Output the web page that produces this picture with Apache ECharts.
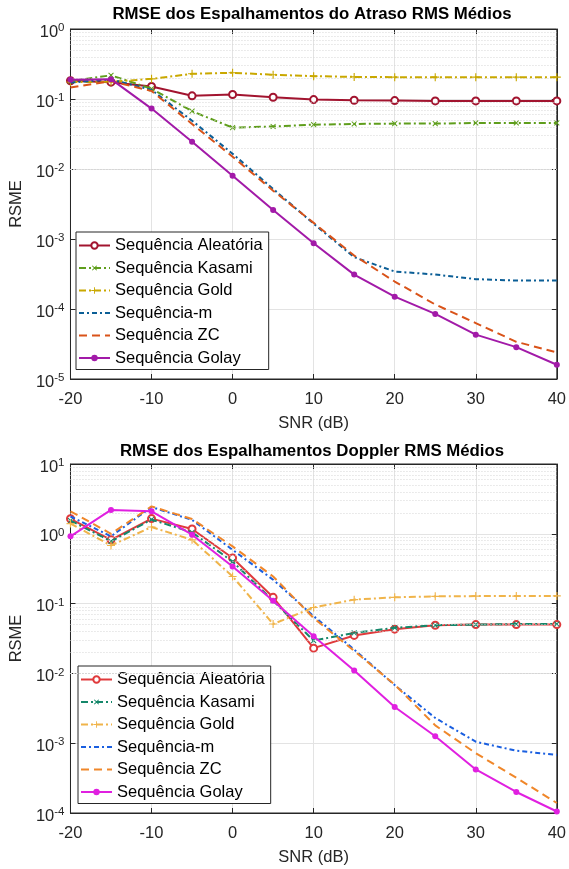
<!DOCTYPE html>
<html><head><meta charset="utf-8">
<script src="https://cdn.jsdelivr.net/npm/echarts@6/dist/echarts.min.js"></script>
<style>html,body{margin:0;padding:0;background:#fff}#c{width:569px;height:869px}</style>
</head><body><div id="c"></div>
<script>
// ---------- DATA ----------
const snr = [-20, -15, -10, -5, 0, 5, 10, 15, 20, 25, 30, 35, 40];
const seriesNames = ['Sequência Aleatória', 'Sequência Kasami', 'Sequência Gold', 'Sequência-m', 'Sequência ZC', 'Sequência Golay'];
const chartTitles = ['RMSE dos Espalhamentos do Atraso RMS Médios', 'RMSE dos Espalhamentos Doppler RMS Médios'];
const xAxisName = 'SNR (dB)';
const yAxisName = 'RSME';

// Top chart: delay spread RMSE
const delayAleatoria = [0.182, 0.174, 0.151, 0.111, 0.116, 0.106, 0.098, 0.096, 0.095, 0.094, 0.094, 0.094, 0.094];
const delayKasami    = [0.18, 0.218, 0.14, 0.067, 0.039, 0.0405, 0.043, 0.044, 0.0445, 0.0445, 0.0455, 0.0455, 0.0455];
const delayGold      = [0.175, 0.176, 0.194, 0.229, 0.237, 0.222, 0.212, 0.207, 0.205, 0.205, 0.205, 0.205, 0.205];
const delayM         = [0.172, 0.19, 0.135, 0.049, 0.0165, 0.0052, 0.00165, 0.00055, 0.000343, 0.000311, 0.000267, 0.000255, 0.000255];
const delayZC        = [0.146, 0.18, 0.13, 0.044, 0.015, 0.0049, 0.0017, 0.00058, 0.000247, 0.000116, 0.000063, 0.000034, 0.000024];
const delayGolay     = [0.188, 0.192, 0.073, 0.0245, 0.008, 0.0026, 0.00087, 0.00031, 0.00015, 0.000085, 0.000043, 0.0000285, 0.000016];

// Bottom chart: Doppler spread RMSE
const dopAleatoria = [1.64, 0.82, 1.65, 1.17, 0.45, 0.123, 0.023, 0.035, 0.043, 0.049, 0.05, 0.05, 0.05];
const dopKasami    = [1.55, 0.78, 1.6, 1.05, 0.40, 0.11, 0.0295, 0.038, 0.045, 0.049, 0.05, 0.051, 0.051];
const dopGold      = [1.4, 0.68, 1.25, 0.82, 0.245, 0.051, 0.088, 0.114, 0.123, 0.127, 0.128, 0.128, 0.129];
const dopM         = [1.77, 0.92, 2.42, 1.58, 0.59, 0.22, 0.066, 0.022, 0.0068, 0.0023, 0.00105, 0.00078, 0.00068];
const dopZC        = [2.1, 1.0, 2.47, 1.63, 0.66, 0.245, 0.062, 0.021, 0.0069, 0.0018, 0.00072, 0.00032, 0.000139];
const dopGolay     = [0.92, 2.2, 2.1, 0.97, 0.34, 0.11, 0.034, 0.011, 0.0033, 0.00126, 0.00042, 0.0002, 0.000105];

const yRangeTop = [1e-5, 1];
const yRangeBottom = [1e-4, 10];

// ---------- STYLE ----------
const FONT = '"Liberation Sans", Arial, Helvetica, sans-serif';
const AX = '#262626';
const FS = 16.5;
const plusPath = 'path://M4.3,0H5.7V4.3H10V5.7H5.7V10H4.3V5.7H0V4.3H4.3Z';
const stylesTop = [
  {color: '#a2142f', type: 'solid', symbol: 'emptyCircle', size: 7},
  {color: '#5f9e1c', type: [7, 3, 2, 3], symbol: plusPath, rot: 45, size: 7},
  {color: '#c9a800', type: [7, 3, 2, 3], symbol: plusPath, size: 8},
  {color: '#0b5e96', type: [5, 3, 2, 3], symbol: 'none'},
  {color: '#d95319', type: [8, 5], symbol: 'none'},
  {color: '#a21aa8', type: 'solid', symbol: 'circle', size: 6}
];
const stylesBottom = [
  {color: '#e03a3c', type: 'solid', symbol: 'emptyCircle', size: 7},
  {color: '#15876a', type: [7, 3, 2, 3], symbol: plusPath, rot: 45, size: 7},
  {color: '#f0b44a', type: [7, 3, 2, 3], symbol: plusPath, size: 8},
  {color: '#1a5fe0', type: [5, 3, 2, 3], symbol: 'none'},
  {color: '#f0872a', type: [8, 5], symbol: 'none'},
  {color: '#e020e0', type: 'solid', symbol: 'circle', size: 6}
];

function minorValues(range) {
  const out = [];
  const d0 = Math.round(Math.log10(range[0])), d1 = Math.round(Math.log10(range[1]));
  for (let d = d0; d < d1; d++) for (let k = 2; k <= 9; k++) out.push(k * Math.pow(10, d));
  return out;
}

const grids = [
  {left: 66, top: 29, width: 493, height: 350},
  {left: 66, top: 464, width: 493, height: 349}
];
const ranges = [yRangeTop, yRangeBottom];
const dataSets = [
  [delayAleatoria, delayKasami, delayGold, delayM, delayZC, delayGolay],
  [dopAleatoria, dopKasami, dopGold, dopM, dopZC, dopGolay]
];
const styleSets = [stylesTop, stylesBottom];

const xAxes = [], yAxes = [], series = [], legends = [], graphics = [];
const titleCenters = [[312, 14], [312, 451]];
const legendPos = [[76, 232], [78, 666]];

grids.forEach((g, gi) => {
  const xi = xAxes.length;
  xAxes.push({
    gridIndex: gi, type: 'value', min: -20, max: 40, interval: 10, position: 'bottom',
    name: xAxisName, nameLocation: 'middle', nameGap: 36,
    nameTextStyle: {fontSize: FS, color: AX, fontFamily: FONT},
    axisLine: {show: true, onZero: false, lineStyle: {color: AX}},
    axisTick: {show: true, inside: true, length: 5, lineStyle: {color: AX}},
    axisLabel: {fontSize: FS, color: AX, fontFamily: FONT, margin: 12},
    splitLine: {show: true, lineStyle: {color: '#e3e3e3', width: 1}}
  });
  xAxes.push({
    gridIndex: gi, type: 'value', min: -20, max: 40, interval: 10, position: 'top',
    axisLine: {show: true, onZero: false, lineStyle: {color: AX}},
    axisTick: {show: true, inside: true, length: 5, lineStyle: {color: AX}},
    axisLabel: {show: false}, splitLine: {show: false}
  });
  const r = ranges[gi];
  const yi = yAxes.length;
  yAxes.push({
    gridIndex: gi, type: 'log', logBase: 10, min: r[0], max: r[1], position: 'left',
    name: yAxisName, nameLocation: 'middle', nameGap: 40,
    nameTextStyle: {fontSize: FS, color: AX, fontFamily: FONT},
    axisLine: {show: true, onZero: false, lineStyle: {color: AX}},
    axisTick: {show: true, inside: true, length: 5, lineStyle: {color: AX}},
    axisLabel: {
      color: AX, fontFamily: FONT, margin: 6,
      formatter: v => '{b|10}{e|' + Math.round(Math.log10(v)) + '}',
      rich: {
        b: {fontSize: FS, lineHeight: 22, padding: [6, 0, 0, 0], color: AX, fontFamily: FONT},
        e: {fontSize: 11.5, lineHeight: 13, padding: [4, 0, 0, 0], verticalAlign: 'top', color: AX, fontFamily: FONT}
      }
    },
    splitLine: {show: true, lineStyle: {color: '#e3e3e3', width: 1}}
  });
  yAxes.push({
    gridIndex: gi, type: 'log', logBase: 10, min: r[0], max: r[1], position: 'right',
    axisLine: {show: true, onZero: false, lineStyle: {color: AX}},
    axisTick: {show: true, inside: true, length: 5, lineStyle: {color: AX}},
    axisLabel: {show: false}, splitLine: {show: false}
  });

  // minor grid (dotted) via markLine on a dummy series
  series.push({
    type: 'line', xAxisIndex: xi, yAxisIndex: yi, data: [], silent: true, z: 1,
    markLine: {
      silent: true, symbol: 'none', label: {show: false}, animation: false,
      lineStyle: {type: [1, 2], color: '#d6d6d6', width: 1},
      emphasis: {disabled: true},
      data: minorValues(r).map(v => ({yAxis: v}))
    }
  });

  const legendData = [];
  dataSets[gi].forEach((vals, si) => {
    const st = styleSets[gi][si];
    const name = seriesNames[si] + (gi === 1 ? ' ' : '');
    legendData.push(st.symbol === 'none'
      ? {name: name, itemStyle: {opacity: 0, color: 'rgba(0,0,0,0)', borderColor: 'rgba(0,0,0,0)'}}
      : {name: name});
    series.push({
      name: name, type: 'line', xAxisIndex: xi, yAxisIndex: yi,
      data: snr.map((x, k) => [x, vals[k]]),
      symbol: st.symbol, symbolSize: st.size || 6, symbolRotate: st.rot || 0,
      showSymbol: st.symbol !== 'none',
      lineStyle: {color: st.color, width: 2, type: st.type},
      itemStyle: {color: st.color, borderColor: st.color, borderWidth: st.symbol === 'emptyCircle' ? 1.8 : 0},
      emphasis: {disabled: true}, z: 3 + si
    });
  });
  legends.push({
    left: legendPos[gi][0], top: legendPos[gi][1], orient: 'vertical',
    data: legendData, selectedMode: false,
    itemWidth: 31, itemHeight: 8, itemGap: 5.5,
    padding: [5, 6, 3, 2],
    borderColor: AX, borderWidth: 1, backgroundColor: '#fff',
    textStyle: {fontSize: FS, color: '#000', fontFamily: FONT, lineHeight: 17},
    formatter: n => n.trim()
  });
  graphics.push({
    type: 'text', x: titleCenters[gi][0], y: titleCenters[gi][1], z: 10,
    style: {text: chartTitles[gi], align: 'center', verticalAlign: 'middle',
      fontSize: 16.8, fontWeight: 'bold', fontFamily: FONT, fill: '#000'}
  });
});

const chart = echarts.init(document.getElementById('c'), null, {renderer: 'canvas'});
chart.setOption({
  animation: false,
  backgroundColor: '#fff',
  textStyle: {fontFamily: FONT},
  grid: grids.map(g => Object.assign({show: true, borderColor: AX, borderWidth: 1, backgroundColor: '#fff'}, g)),
  xAxis: xAxes, yAxis: yAxes, series: series, legend: legends, graphic: graphics
});
</script></body></html>
